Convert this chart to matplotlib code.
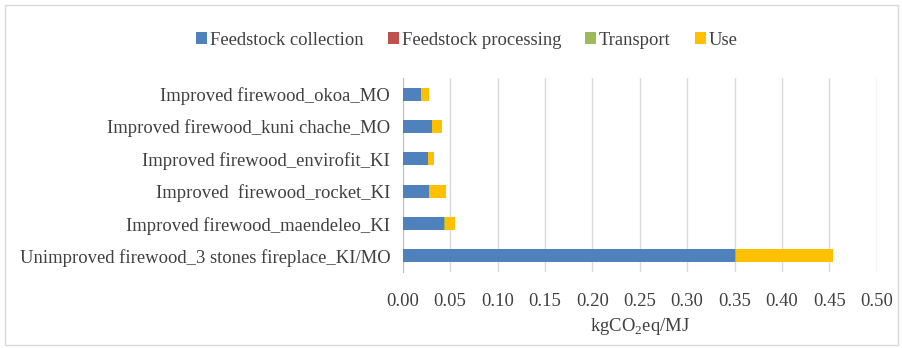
import numpy as np
import matplotlib.pyplot as plt

plt.rcParams['font.family'] = ['Liberation Serif', 'DejaVu Serif']
plt.rcParams['mathtext.fontset'] = 'custom'
plt.rcParams['mathtext.rm'] = 'Liberation Serif'

categories = ['Unimproved firewood_3 stones fireplace_KI/MO',
              'Improved firewood_maendeleo_KI',
              'Improved  firewood_rocket_KI',
              'Improved firewood_envirofit_KI',
              'Improved firewood_kuni chache_MO',
              'Improved firewood_okoa_MO']
collection = [0.350, 0.0435, 0.028, 0.0263, 0.0313, 0.0193]
processing = [0.0, 0.0, 0.0, 0.0, 0.0, 0.0]
transport = [0.0015, 0.001, 0.0, 0.0, 0.0, 0.0]
use = [0.102, 0.0105, 0.0179, 0.0063, 0.0105, 0.0081]

series = [('Feedstock collection', collection, '#4f81bd'),
          ('Feedstock processing', processing, '#c0504d'),
          ('Transport', transport, '#9bbb59'),
          ('Use', use, '#ffc000')]

fs = 13.4
fig = plt.figure(figsize=(9.03, 3.48), dpi=100)
fig.patches.append(plt.Rectangle((0.006, 0.01), 0.988, 0.975, transform=fig.transFigure,
                                 fill=False, edgecolor='#d9d9d9', lw=1))
ax = fig.add_axes([0.446, 0.218, 0.525, 0.558])

y = np.arange(len(categories))
left = np.zeros(len(categories))
for name, vals, col in series:
    ax.barh(y, vals, left=left, height=0.4, color=col, label=name, zorder=3)
    left += np.array(vals)

ax.set_xlim(0, 0.5)
ax.set_ylim(-0.5, len(categories) - 0.5)
ax.set_xticks(np.arange(0, 0.501, 0.05))
ax.set_xticklabels(['%.2f' % v for v in np.arange(0, 0.501, 0.05)])
ax.set_yticks(y)
ax.set_yticklabels(categories)
ax.tick_params(axis='x', length=0, labelsize=fs, colors='#404040', pad=15)
ax.tick_params(axis='y', length=0, labelsize=fs, colors='#404040', pad=9)
ax.grid(axis='x', color='#d9d9d9', lw=1, zorder=0)
for s in ['top', 'right', 'bottom']:
    ax.spines[s].set_visible(False)
ax.spines['left'].set_color('#bfbfbf')
ax.set_xlabel(r'kgCO$_\mathrm{2}$eq/MJ', fontsize=fs, color='#404040', labelpad=4)

fig.legend(loc='center', bbox_to_anchor=(0.517, 0.885), ncol=4, frameon=False,
           fontsize=fs, handlelength=0.6, handleheight=0.6, handletextpad=0.15,
           columnspacing=1.3, labelcolor='#404040')

fig.savefig('out.png', dpi=100)
